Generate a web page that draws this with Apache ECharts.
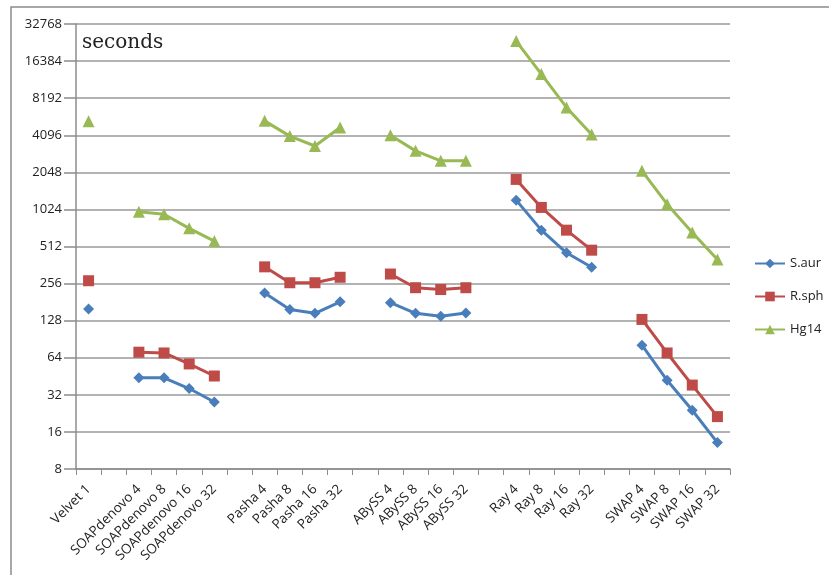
<!DOCTYPE html>
<html>
<head>
<meta charset="utf-8">
<script src="https://cdn.jsdelivr.net/npm/echarts@6/dist/echarts.min.js"></script>
<style>
html,body{margin:0;padding:0;background:#fff;}
#c{width:829px;height:575px;}
</style>
</head>
<body>
<div id="c"></div>
<script>
const categories = ['Velvet 1','',
  'SOAPdenovo 4','SOAPdenovo 8','SOAPdenovo 16','SOAPdenovo 32','',
  'Pasha 4','Pasha 8','Pasha 16','Pasha 32','',
  'ABySS 4','ABySS 8','ABySS 16','ABySS 32','',
  'Ray 4','Ray 8','Ray 16','Ray 32','',
  'SWAP 4','SWAP 8','SWAP 16','SWAP 32'];
const yTicks = [8,16,32,64,128,256,512,1024,2048,4096,8192,16384,32768];
const sAur = [159,null, 44,44,36,28,null, 215,158,147,182,null, 179,147,139,148,null, 1218,695,455,347,null, 81,42,24,13.1];
const rSph = [270,null, 71,70,57,45.5,null, 350,260,260,288,null, 306,237,229,237,null, 1795,1063,695,478,null, 131,70,38.4,21.3];
const hg14 = [5330,null, 980,936,719,567,null, 5360,4030,3350,4740,null, 4096,3060,2540,2540,null, 23800,12850,6890,4160,null, 2105,1130,666,402];

const chart = echarts.init(document.getElementById('c'));
const font = 'Open Sans, Noto Sans, sans-serif';
function mk(name, data, color, symbol, size){
  return {name, type:'line', data, symbol, symbolSize:size, showSymbol:true, showAllSymbol:true,
    connectNulls:false, lineStyle:{width:3,color}, itemStyle:{color}, animation:false};
}
chart.setOption({
  animation:false,
  grid:{left:76,right:99,top:24,bottom:106},
  graphic:[
    {type:'polyline',shape:{points:[[11,575],[11,7],[829,7]]},style:{stroke:'#8c8c8c',lineWidth:1.5,fill:null}},
    {type:'text',left:82,top:33,style:{text:'seconds',font:'20px "DejaVu Serif", serif',fill:'#222'}}
  ],
  legend:{orient:'vertical',left:754,top:257,padding:0,itemGap:20,itemWidth:30,itemHeight:12,
    textStyle:{fontFamily:font,fontSize:13,color:'#222'},
    data:['S.aur','R.sph','Hg14']},
  xAxis:{type:'category',data:categories,boundaryGap:true,
    axisLine:{lineStyle:{color:'#8c8c8c',width:1.5}},
    axisTick:{show:true,alignWithLabel:false,interval:0,length:6,lineStyle:{color:'#8c8c8c'}},
    axisLabel:{interval:0,rotate:45,fontFamily:font,fontSize:13.5,color:'#222',margin:18}},
  yAxis:{type:'log',logBase:2,min:8,max:32768,interval:1,
    axisLine:{show:true,lineStyle:{color:'#8c8c8c',width:1.5}},
    axisTick:{show:true,length:12,lineStyle:{color:'#8c8c8c',width:1.5}},
    splitLine:{lineStyle:{color:'#999',width:1.5}},
    axisLabel:{fontFamily:font,fontSize:13,color:'#222',margin:14,formatter:v=>String(Math.round(v))}},
  series:[
    mk('S.aur',sAur,'#4a7ebb','diamond',11),
    mk('R.sph',rSph,'#be4b48','rect',11),
    mk('Hg14',hg14,'#98b954','triangle',12)
  ]
});
</script>
</body>
</html>
